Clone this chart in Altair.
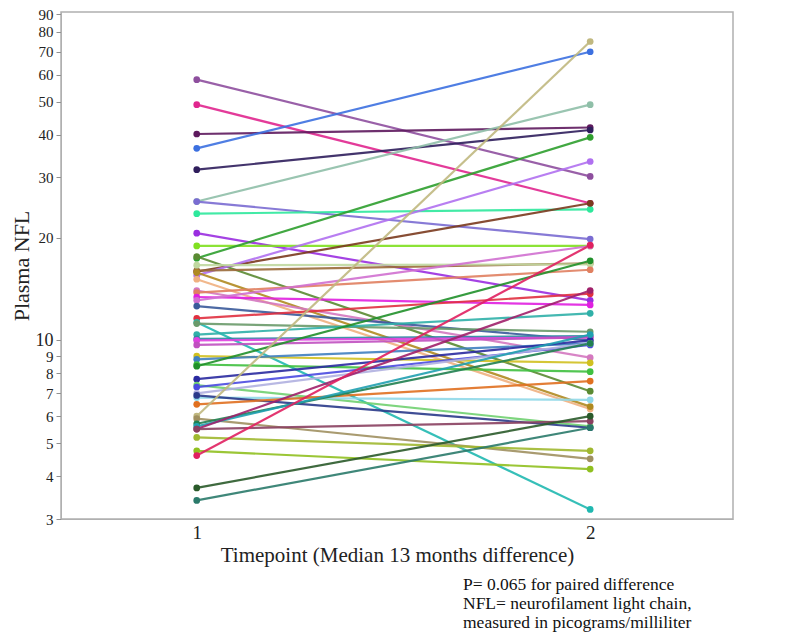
import altair as alt
import pandas as pd

# Subject-level paired values (timepoint 1, timepoint 2) and line colours
t1 = [58, 49, 40.2, 36.5, 31.6, 25.5, 25.5, 23.5, 20.6, 18.9, 17.4, 17.6, 15.9, 15.5,
      16.0, 16.6, 15.1, 15.8, 14.0, 13.8, 13.4, 13.1, 12.6, 11.6, 11.3, 11.2, 10.4, 10.1,
      10.0, 9.7, 9.0, 8.8, 8.5, 8.4, 7.7, 7.4, 7.3, 7.0, 6.8, 6.9, 6.5, 6.0, 5.9, 5.7,
      5.6, 5.5, 5.5, 5.2, 4.75, 4.6, 3.7, 3.4]
t2 = [30.2, 25.2, 42, 70, 41.3, 49, 19.8, 24.2, 13.1, 18.9, 39.3, 7.1, 25.2, 33.4,
      16.8, 16.7, 6.3, 6.4, 8.9, 16.1, 12.7, 18.9, 10.0, 13.7, 3.2, 10.6, 12.0, 10.3,
      10.2, 10.2, 8.6, 9.8, 8.1, 17.1, 10.0, 5.6, 9.7, 9.8, 6.7, 5.55, 7.6, 75, 4.5, 9.8,
      10.4, 14.0, 5.8, 4.75, 4.2, 19.0, 6.0, 5.55]
colors = ["#8e4f9e", "#e0268e", "#5e1a5e", "#3c70e0", "#2f1e5c", "#8fbfa8", "#7a6cd2",
          "#2ee89c", "#9a2ee0", "#80e020", "#2e9e2e", "#5a8a32", "#7a3a1e", "#b070f0",
          "#9a6a3a", "#c0d8a0", "#f0b080", "#b08a20", "#d478c0", "#e08060", "#e020e0",
          "#d070d0", "#3a5a9a", "#e03040", "#20b8b0", "#6a9a6a", "#30b0a8", "#2a8aa0",
          "#e040e0", "#c050c0", "#d0c020", "#4080c0", "#40c040", "#20902a", "#2a2aa0",
          "#70d070", "#4a4ae0", "#b0b0e0", "#90d8e8", "#2a3a8a", "#e07020", "#c0b880",
          "#a09060", "#208050", "#20a0b0", "#a0206a", "#8a4060", "#a0b830", "#90c020",
          "#e02060", "#2a5a2a", "#2a7a6a"]
timepoints = [1, 2]
y_ticks = [3, 4, 5, 6, 7, 8, 9, 10, 20, 30, 40, 50, 60, 70, 80, 90]
notes = ["P= 0.065 for paired difference",
         "NFL= neurofilament light chain,",
         "measured in picograms/milliliter"]

ids = [f"S{i+1:02d}" for i in range(len(t1))]
rows = []
for sid, a, b in zip(ids, t1, t2):
    rows.append({"id": sid, "time": timepoints[0], "nfl": a})
    rows.append({"id": sid, "time": timepoints[1], "nfl": b})
df = pd.DataFrame(rows)

FONT = "Liberation Serif"

x_enc = alt.X("time:Q",
              scale=alt.Scale(domain=[0.655, 2.363], nice=False, zero=False),
              axis=alt.Axis(values=timepoints, format="d", title="Timepoint (Median 13 months difference)",
                            labelFont=FONT, labelFontSize=19, labelColor="#222",
                            titleFont=FONT, titleFontSize=21, titleFontWeight="normal",
                            titleColor="#222", titlePadding=2, labelPadding=4,
                            tickSize=0, domainColor="#b0b0b0", grid=False))
y_enc = alt.Y("nfl:Q",
              scale=alt.Scale(type="log", domain=[3, 91.5], nice=False),
              axis=alt.Axis(values=y_ticks, title="Plasma NFL", labelOverlap=False,
                            labelFont=FONT, labelColor="#222",
                            labelFontSize={"condition": {"test": "datum.value == 10", "value": 18}, "value": 15},
                            titleFont=FONT, titleFontSize=22, titleFontWeight="normal",
                            titleColor="#222", titlePadding=2, labelPadding=3,
                            tickSize=5, tickColor="#909090", domainColor="#b0b0b0", grid=False))
color_enc = alt.Color("id:N", scale=alt.Scale(domain=ids, range=colors), legend=None)

base = alt.Chart(df).encode(x=x_enc, y=y_enc, color=color_enc)
lines = base.mark_line(strokeWidth=2.2, opacity=0.9).encode(detail="id:N")
points = base.mark_circle(size=45, opacity=1)

note_layers = []
for i, txt in enumerate(notes):
    note_layers.append(
        alt.Chart(pd.DataFrame({"text": [txt]})).mark_text(
            align="left", baseline="middle", font=FONT, fontSize=17.5, color="#111"
        ).encode(x=alt.value(402), y=alt.value(573 + 19 * i), text="text:N")
    )

chart = alt.layer(lines, points, *note_layers).properties(
    width=672, height=507,
    autosize=alt.AutoSizeParams(type="none"),
    padding={"left": 53, "top": 4, "right": 10, "bottom": 118},
).configure_view(stroke="#b0b0b0", strokeWidth=1.5)

chart.save("out.html", embed_options={"renderer": "svg", "actions": False})
